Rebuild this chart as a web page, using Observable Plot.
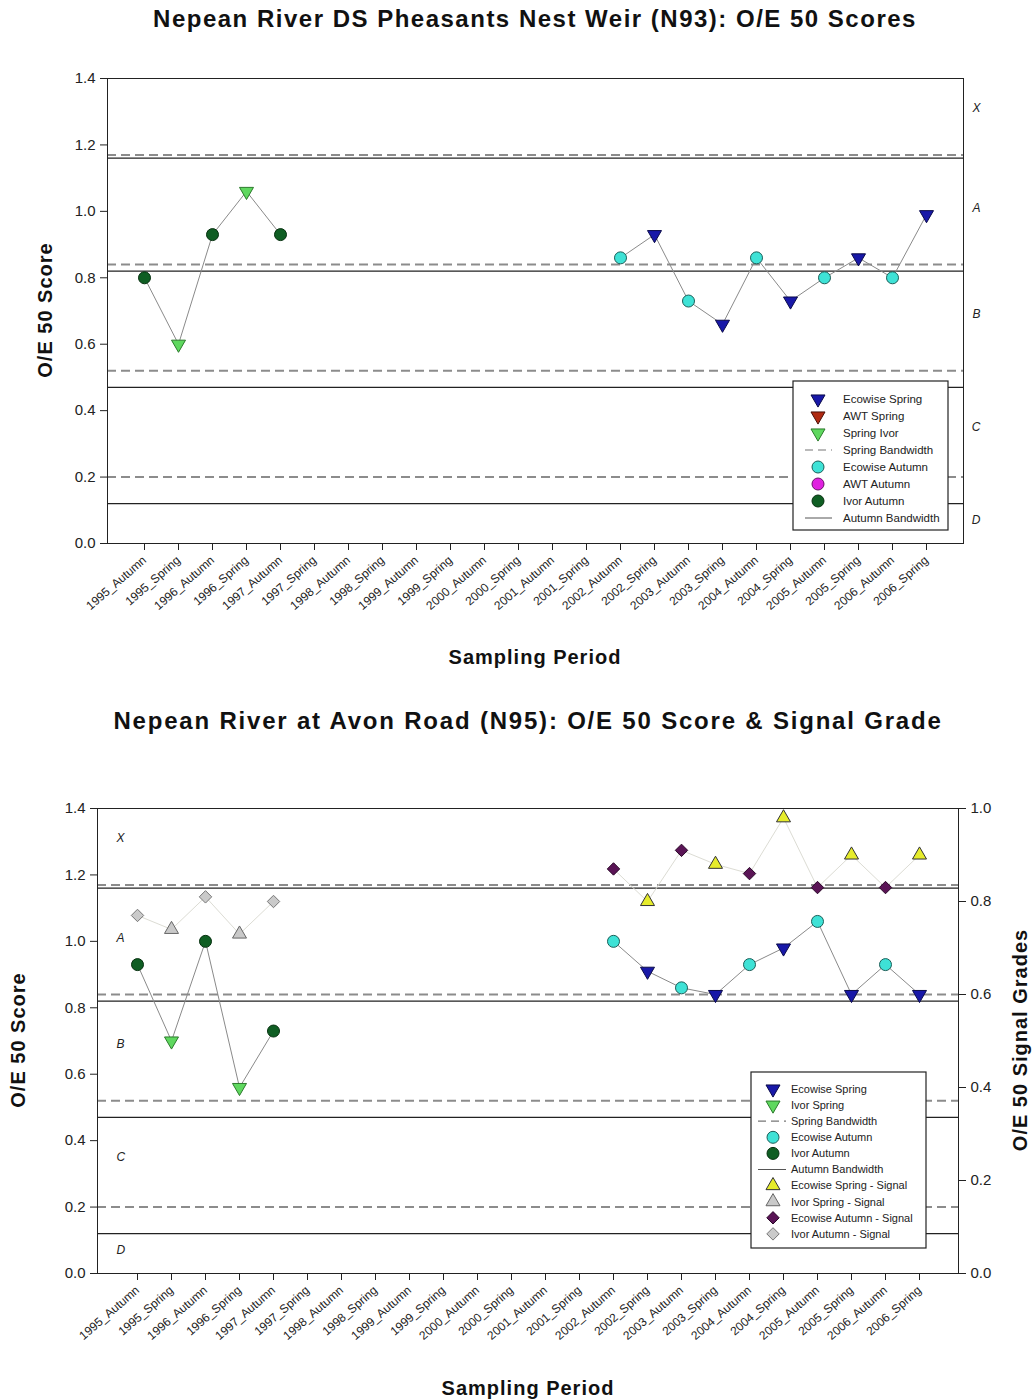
<!DOCTYPE html>
<html><head><meta charset="utf-8">
<script src="https://cdn.jsdelivr.net/npm/d3@7"></script>
<script src="https://cdn.jsdelivr.net/npm/@observablehq/plot@0.6"></script>
<style>
body{margin:0;background:#fff;font-family:"Liberation Sans",Arial,sans-serif;}
#root{position:relative;width:1033px;height:1400px;overflow:hidden;background:#fff;}
.lbl{position:absolute;white-space:nowrap;font-weight:bold;color:#111;transform:translate(-50%,-50%);}
.rot{transform:translate(-50%,-50%) rotate(-90deg);}
</style>
</head><body><div id="root"></div>
<script>
// ---------- data ----------
const periods = ["1995_Autumn","1995_Spring","1996_Autumn","1996_Spring","1997_Autumn","1997_Spring",
  "1998_Autumn","1998_Spring","1999_Autumn","1999_Spring","2000_Autumn","2000_Spring",
  "2001_Autumn","2001_Spring","2002_Autumn","2002_Spring","2003_Autumn","2003_Spring",
  "2004_Autumn","2004_Spring","2005_Autumn","2005_Spring","2006_Autumn","2006_Spring"];
const agency = ["Ivor","Ivor","Ivor","Ivor","Ivor",null,null,null,null,null,null,null,null,null,
  "Ecowise","Ecowise","Ecowise","Ecowise","Ecowise","Ecowise","Ecowise","Ecowise","Ecowise","Ecowise"];
const n93Score = [0.80,0.60,0.93,1.06,0.93,null,null,null,null,null,null,null,null,null,
  0.86,0.93,0.73,0.66,0.86,0.73,0.80,0.86,0.80,0.99];
const n95Score = [0.93,0.70,1.00,0.56,0.73,null,null,null,null,null,null,null,null,null,
  1.00,0.91,0.86,0.84,0.93,0.98,1.06,0.84,0.93,0.84];
const n95Signal = [0.77,0.74,0.81,0.73,0.80,null,null,null,null,null,null,null,null,null,
  0.87,0.80,0.91,0.88,0.86,0.98,0.83,0.90,0.83,0.90];
const springBand = [1.17,0.84,0.52,0.20];
const autumnBand = [1.16,0.82,0.47,0.12];
const grades = ["X","A","B","C","D"];
const gradeMid = [1.31,1.01,0.69,0.35,0.07];
const scoreTicks = [0,0.2,0.4,0.6,0.8,1.0,1.2,1.4];
const signalTicks = [0,0.2,0.4,0.6,0.8,1.0];
const legendTopLabels = ["Ecowise Spring","AWT Spring","Spring Ivor","Spring Bandwidth","Ecowise Autumn","AWT Autumn","Ivor Autumn","Autumn Bandwidth"];
const legendTopKeys = ["Ecowise Spring","AWT Spring","Ivor Spring","springBand","Ecowise Autumn","AWT Autumn","Ivor Autumn","autumnBand"];
const legendBotLabels = ["Ecowise Spring","Ivor Spring","Spring Bandwidth","Ecowise Autumn","Ivor Autumn","Autumn Bandwidth","Ecowise Spring - Signal","Ivor Spring - Signal","Ecowise Autumn - Signal","Ivor Autumn - Signal"];
const legendBotKeys = ["Ecowise Spring","Ivor Spring","springBand","Ecowise Autumn","Ivor Autumn","autumnBand","Ecowise Spring - Signal","Ivor Spring - Signal","Ecowise Autumn - Signal","Ivor Autumn - Signal"];

// ---------- styles ----------
const styles = {
  "Ecowise Spring": {symbol:"triangle", rotate:180, fill:"#1818a8", stroke:"#0a0a4a", r:5.2},
  "AWT Spring": {symbol:"triangle", rotate:180, fill:"#b02a12", stroke:"#4a1008", r:5.2},
  "Ivor Spring": {symbol:"triangle", rotate:180, fill:"#5fd85f", stroke:"#2b7a2b", r:5.2},
  "Ecowise Autumn": {symbol:"circle", rotate:0, fill:"#3ee2d6", stroke:"#1b5e58", r:6},
  "AWT Autumn": {symbol:"circle", rotate:0, fill:"#e021e0", stroke:"#6a106a", r:6},
  "Ivor Autumn": {symbol:"circle", rotate:0, fill:"#0f5e23", stroke:"#06300f", r:6},
  "Ecowise Spring - Signal": {symbol:"triangle", rotate:0, fill:"#e6ec2c", stroke:"#333", r:5.2},
  "Ivor Spring - Signal": {symbol:"triangle", rotate:0, fill:"#c9c9c9", stroke:"#666", r:5.2},
  "Ecowise Autumn - Signal": {symbol:"diamond2", rotate:0, fill:"#5a1456", stroke:"#2a0828", r:5.6},
  "Ivor Autumn - Signal": {symbol:"diamond2", rotate:0, fill:"#cacaca", stroke:"#777", r:5.6}
};
const FONT = "Liberation Sans, Arial, sans-serif";
const root = document.getElementById("root");

function seasonOf(p){ return p.split("_")[1]; }
function rowsFor(values, suffix){
  return periods.map((p,i)=>({period:p, v: values[i], series: agency[i] ? `${agency[i]} ${seasonOf(p)}${suffix}` : null}));
}
function dotMarks(rows, yScale){
  const keys = [...new Set(rows.filter(d=>d.series && d.v!=null).map(d=>d.series))];
  return keys.map(k=>{
    const s = styles[k];
    return Plot.dot(rows.filter(d=>d.series===k && d.v!=null), {
      x:"period", y: d=>d.v*yScale, symbol:s.symbol, rotate:s.rotate, r:s.r,
      fill:s.fill, stroke:s.stroke, strokeWidth:1
    });
  });
}
function addLabel(text, x, y, size, rotate, spacing){
  const el = document.createElement("div");
  el.className = "lbl" + (rotate ? " rot" : "");
  el.style.left = x+"px"; el.style.top = y+"px"; el.style.fontSize = size+"px";
  el.style.letterSpacing = (spacing||0)+"px";
  el.textContent = text; root.appendChild(el);
}
const gradeRows = grades.map((g,i)=>({g, v:gradeMid[i]}));
const xAxisOpts = {tickRotate:-41, fontSize:12, tickSize:7, tickPadding:8, label:null};
const yAxisOpts = {ticks:scoreTicks, tickFormat:d3.format(".1f"), fontSize:15, tickSize:7, tickPadding:5, label:null};

// ---------- top chart ----------
const topRows = rowsFor(n93Score, "");
const plotTop = Plot.plot({
  width:1033, height:640, marginLeft:107, marginRight:70, marginTop:38, marginBottom:137,
  x:{type:"point", domain:periods, padding:1},
  y:{domain:[0,1.4]},
  style:{fontFamily:FONT, background:"transparent", color:"#222"},
  marks:[
    Plot.ruleY(autumnBand,{stroke:"#222",strokeWidth:1.2}),
    Plot.ruleY(springBand,{stroke:"#8c8c8c",strokeWidth:2,strokeDasharray:"9,5"}),
    Plot.line(topRows,{x:"period",y:"v",stroke:"#8a8a8a",strokeWidth:1}),
    ...dotMarks(topRows,1),
    Plot.frame({stroke:"#222"}),
    Plot.axisX(xAxisOpts),
    Plot.axisY(yAxisOpts),
    Plot.text(gradeRows,{y:"v",text:"g",frameAnchor:"right",dx:17,fontStyle:"italic",fontSize:12})
  ]
});
plotTop.style.position="absolute"; plotTop.style.left="0px"; plotTop.style.top="40px";
root.appendChild(plotTop);

// ---------- bottom chart ----------
const SIG = 1.4; // signal grade 0..1 drawn on the 0..1.4 score scale
const botRows = rowsFor(n95Score, "");
const sigRows = rowsFor(n95Signal, " - Signal");
const plotBot = Plot.plot({
  width:1033, height:630, marginLeft:97, marginRight:75, marginTop:38, marginBottom:127,
  x:{type:"point", domain:periods, padding:1},
  y:{domain:[0,1.4]},
  style:{fontFamily:FONT, background:"transparent", color:"#222"},
  marks:[
    Plot.ruleY(autumnBand,{stroke:"#222",strokeWidth:1.2}),
    Plot.ruleY(springBand,{stroke:"#8c8c8c",strokeWidth:2,strokeDasharray:"9,5"}),
    Plot.line(sigRows,{x:"period",y:d=>d.v==null?null:d.v*SIG,stroke:"#dcdcd4",strokeWidth:1}),
    Plot.line(botRows,{x:"period",y:"v",stroke:"#8a8a8a",strokeWidth:1}),
    ...dotMarks(sigRows,SIG),
    ...dotMarks(botRows,1),
    Plot.frame({stroke:"#222"}),
    Plot.axisX(xAxisOpts),
    Plot.axisY(yAxisOpts),
    Plot.axisY({anchor:"right", ticks:signalTicks.map(v=>v*SIG), tickFormat:d=>(d/SIG).toFixed(1), fontSize:15, tickSize:7, tickPadding:5, label:null}),
    Plot.text(gradeRows,{y:"v",text:"g",frameAnchor:"left",dx:19,fontStyle:"italic",fontSize:12})
  ]
});
plotBot.style.position="absolute"; plotBot.style.left="0px"; plotBot.style.top="770px";
root.appendChild(plotBot);

// ---------- titles & axis labels ----------
addLabel("Nepean River DS Pheasants Nest Weir (N93): O/E 50 Scores", 535, 19, 24, false, 1.5);
addLabel("Sampling Period", 535, 657, 20, false, 1);
addLabel("O/E 50 Score", 45, 310, 20, true, 1);
addLabel("Nepean River at Avon Road (N95): O/E 50 Score & Signal Grade", 528, 721, 24, false, 1.8);
addLabel("Sampling Period", 528, 1388, 20, false, 1);
addLabel("O/E 50 Score", 18, 1040, 20, true, 1);
addLabel("O/E 50 Signal Grades", 1020, 1040, 20, true, 1);

// ---------- legends (overlay) ----------
const overlay = d3.select(root).append("svg").attr("width",1033).attr("height",1400)
  .style("position","absolute").style("left","0px").style("top","0px").style("pointer-events","none");
const symMap = {circle:d3.symbolCircle, triangle:d3.symbolTriangle, diamond2:d3.symbolDiamond2};
function legend(labels, keys, box, rowY0, rowStep, symX, lineX0, lineX1, textX, fs){
  const g = overlay.append("g").style("font-family",FONT).style("font-size",fs+"px");
  g.append("rect").attr("x",box[0]).attr("y",box[1]).attr("width",box[2]).attr("height",box[3])
    .attr("fill","#fff").attr("stroke","#222").attr("stroke-width",1.2);
  labels.forEach((lab,i)=>{
    const y = rowY0 + i*rowStep, k = keys[i];
    if (k==="springBand") {
      g.append("line").attr("x1",lineX0).attr("x2",lineX1).attr("y1",y).attr("y2",y)
        .attr("stroke","#777").attr("stroke-width",1.2).attr("stroke-dasharray","8,5");
    } else if (k==="autumnBand") {
      g.append("line").attr("x1",lineX0).attr("x2",lineX1).attr("y1",y).attr("y2",y)
        .attr("stroke","#555").attr("stroke-width",1);
    } else {
      const s = styles[k];
      g.append("path").attr("d", d3.symbol(symMap[s.symbol], Math.PI*s.r*s.r)())
        .attr("transform",`translate(${symX},${y}) rotate(${s.rotate})`)
        .attr("fill",s.fill).attr("stroke",s.stroke);
    }
    g.append("text").attr("x",textX).attr("y",y).attr("dy","0.35em").attr("fill","#222").text(lab);
  });
}
legend(legendTopLabels, legendTopKeys, [793,381,155,149], 399, 17, 818, 805, 832, 843, 11.5);
legend(legendBotLabels, legendBotKeys, [751,1072,175,176], 1089, 16.1, 773, 758, 786, 791, 11);
</script></body></html>
